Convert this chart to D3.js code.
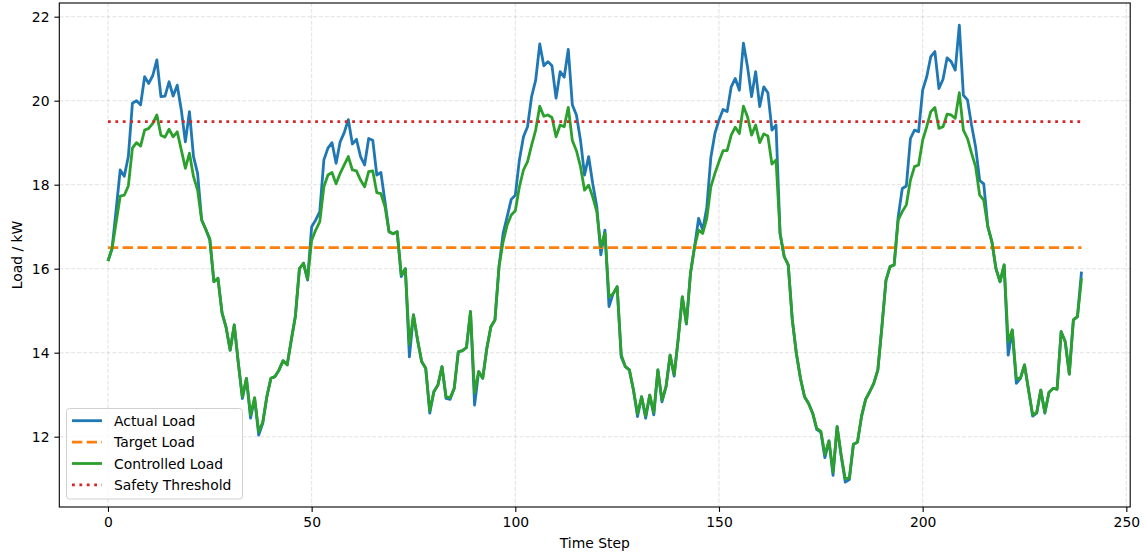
<!DOCTYPE html>
<html>
<head>
<meta charset="utf-8">
<script src="https://cdn.jsdelivr.net/npm/d3@7"></script>
<style>
  body { margin: 0; background: #fff; }
  text { font-family: "DejaVu Sans", sans-serif; }
</style>
</head>
<body>
<script>
'use strict';

// load readings, one per time step (0..239)
let actualLoad = [
  16.18, 16.48, 17.4, 18.35, 18.2, 18.67, 19.94, 20.0, 19.9, 20.57,
  20.41, 20.6, 20.97, 20.1, 20.11, 20.45, 20.11, 20.37, 19.78, 19.02,
  19.74, 18.67, 18.27, 17.16, 16.94, 16.68, 15.69, 15.77, 14.95, 14.6,
  14.06, 14.66, 13.75, 12.91, 13.39, 12.44, 12.91, 12.04, 12.32, 12.95,
  13.39, 13.43, 13.59, 13.81, 13.71, 14.3, 14.86, 16.0, 16.13, 15.73,
  17.0, 17.16, 17.36, 18.59, 18.87, 19.0, 18.51, 19.02, 19.24, 19.55,
  18.97, 19.08, 18.67, 18.47, 19.1, 19.06, 18.23, 18.29, 17.6, 16.88,
  16.83, 16.88, 15.81, 16.0, 13.9, 14.9, 14.3, 13.79, 13.63, 12.56,
  13.07, 13.23, 13.67, 12.91, 12.89, 13.15, 14.02, 14.05, 14.12, 14.98,
  12.75, 13.55, 13.39, 14.1, 14.62, 14.78, 16.05, 16.84, 17.24, 17.65,
  17.75, 18.59, 19.14, 19.38, 20.1, 20.49, 21.35, 20.83, 20.93, 20.83,
  20.06, 20.69, 20.56, 21.22, 19.9, 19.66, 19.06, 18.23, 18.67, 18.03,
  17.48, 16.33, 16.92, 15.1, 15.4, 15.57, 13.9, 13.67, 13.59, 13.11,
  12.48, 12.95, 12.44, 12.99, 12.52, 13.59, 12.83, 13.19, 13.94, 13.44,
  14.34, 15.33, 14.68, 15.89, 16.52, 17.2, 16.92, 17.45, 18.65, 19.22,
  19.54, 19.79, 19.74, 20.33, 20.53, 20.25, 21.37, 20.81, 20.1, 20.69,
  19.86, 20.33, 20.19, 19.3, 19.42, 16.84, 16.29, 16.09, 14.78, 13.98,
  13.39, 12.95, 12.79, 12.56, 12.17, 12.11, 11.5, 11.9, 11.08, 12.24,
  11.54, 10.92, 10.98, 11.82, 11.87, 12.49, 12.89, 13.07, 13.27, 13.59,
  14.62, 15.73, 16.05, 16.09, 17.24, 17.91, 17.97, 19.1, 19.3, 19.26,
  20.25, 20.57, 21.05, 21.17, 20.29, 20.51, 21.02, 20.93, 20.73, 21.8,
  20.13, 20.02, 19.42, 18.9, 18.1, 18.02, 17.0, 16.64, 16.0, 15.69,
  16.09, 13.94, 14.54, 13.27, 13.39, 13.71, 13.11, 12.49, 12.56, 13.11,
  12.56, 13.05, 13.15, 13.13, 14.5, 14.26, 13.49, 14.78, 14.86, 15.93
];

let controlledLoad = [
  16.18, 16.48, 17.1, 17.73, 17.75, 17.97, 18.87, 19.0, 18.92, 19.3,
  19.34, 19.46, 19.66, 19.18, 19.13, 19.32, 19.14, 19.26, 18.83, 18.39,
  18.75, 18.19, 17.87, 17.16, 16.94, 16.72, 15.69, 15.77, 14.95, 14.6,
  14.06, 14.66, 13.75, 12.95, 13.39, 12.52, 12.93, 12.12, 12.35, 12.95,
  13.39, 13.43, 13.59, 13.81, 13.71, 14.3, 14.86, 16.0, 16.13, 15.75,
  16.68, 16.92, 17.12, 17.95, 18.23, 18.29, 18.02, 18.27, 18.47, 18.67,
  18.35, 18.33, 18.11, 17.95, 18.31, 18.33, 17.81, 17.79, 17.48, 16.88,
  16.83, 16.88, 15.85, 16.0, 14.2, 14.9, 14.3, 13.79, 13.63, 12.62,
  13.07, 13.23, 13.67, 12.95, 12.93, 13.15, 14.02, 14.05, 14.12, 14.98,
  13.05, 13.55, 13.39, 14.1, 14.62, 14.78, 16.05, 16.64, 17.04, 17.28,
  17.38, 17.95, 18.35, 18.55, 18.94, 19.3, 19.87, 19.63, 19.66, 19.6,
  19.14, 19.42, 19.38, 19.84, 19.05, 18.81, 18.43, 17.87, 17.99, 17.71,
  17.36, 16.52, 16.84, 15.33, 15.4, 15.57, 13.95, 13.67, 13.59, 13.11,
  12.55, 12.95, 12.5, 12.99, 12.58, 13.59, 12.87, 13.19, 13.94, 13.48,
  14.34, 15.33, 14.7, 15.89, 16.52, 16.92, 16.84, 17.2, 17.95, 18.27,
  18.55, 18.81, 18.81, 19.18, 19.37, 19.22, 19.87, 19.62, 19.18, 19.42,
  19.0, 19.21, 19.16, 18.49, 18.59, 16.84, 16.29, 16.09, 14.78, 13.98,
  13.39, 12.95, 12.79, 12.56, 12.2, 12.13, 11.58, 11.9, 11.16, 12.24,
  11.56, 11.0, 11.02, 11.82, 11.87, 12.49, 12.89, 13.07, 13.27, 13.59,
  14.62, 15.73, 16.05, 16.09, 17.16, 17.36, 17.52, 18.11, 18.43, 18.47,
  19.06, 19.38, 19.74, 19.84, 19.34, 19.38, 19.68, 19.66, 19.58, 20.19,
  19.3, 19.1, 18.75, 18.43, 17.75, 17.63, 17.0, 16.64, 16.0, 15.69,
  16.09, 14.26, 14.54, 13.39, 13.39, 13.71, 13.11, 12.52, 12.58, 13.11,
  12.58, 13.05, 13.15, 13.13, 14.5, 14.26, 13.49, 14.78, 14.86, 15.77
];

let targetLoad = 16.5;
let safetyThreshold = 19.5;

let xTicks = [0, 50, 100, 150, 200, 250];
let yTicks = [12, 14, 16, 18, 20, 22];

let legendLabels = ['Actual Load', 'Target Load', 'Controlled Load', 'Safety Threshold'];

// svg size matches the browser window
let svgWidth = 1146, svgHeight = 557;
let plot = { left: 59.3, right: 1130.2, top: 3, bottom: 507 };

let steps = actualLoad.map((d, i) => i);

let xScale = d3.scaleLinear()
  .domain([-11.95, 250.95])
  .range([plot.left, plot.right]);

let yScale = d3.scaleLinear()
  .domain([10.326, 22.326])
  .range([plot.bottom, plot.top]);

let chart = d3.select('body').append('svg')
  .attr('width', svgWidth)
  .attr('height', svgHeight);

// grid
let grid = chart.append('g');
grid.selectAll('line.vg').data(xTicks).enter().append('line')
  .attr('x1', d => xScale(d)).attr('x2', d => xScale(d))
  .attr('y1', plot.top).attr('y2', plot.bottom)
  .attr('stroke', '#b0b0b0').attr('stroke-opacity', 0.35)
  .attr('stroke-width', 1.1).attr('stroke-dasharray', '4.1,1.8');
grid.selectAll('line.hg').data(yTicks).enter().append('line')
  .attr('x1', plot.left).attr('x2', plot.right)
  .attr('y1', d => yScale(d)).attr('y2', d => yScale(d))
  .attr('stroke', '#b0b0b0').attr('stroke-opacity', 0.35)
  .attr('stroke-width', 1.1).attr('stroke-dasharray', '4.1,1.8');

// axes
let xAxis = chart.append('g')
  .attr('transform', `translate(0,${plot.bottom})`)
  .call(d3.axisBottom(xScale).tickValues(xTicks).tickSize(4.9).tickPadding(4.9));
let yAxis = chart.append('g')
  .attr('transform', `translate(${plot.left},0)`)
  .call(d3.axisLeft(yScale).tickValues(yTicks).tickSize(4.9).tickPadding(4.9));

[xAxis, yAxis].forEach(ax => {
  ax.select('.domain').remove();
  ax.selectAll('line').attr('stroke', '#000').attr('stroke-width', 1.1);
  ax.selectAll('text').attr('font-size', 13.9).attr('fill', '#000')
    .attr('font-family', '"DejaVu Sans", sans-serif');
});

// frame
chart.append('rect')
  .attr('x', plot.left).attr('y', plot.top)
  .attr('width', plot.right - plot.left).attr('height', plot.bottom - plot.top)
  .attr('fill', 'none').attr('stroke', '#000').attr('stroke-width', 1.1);

let lineGen = d3.line().x((d, i) => xScale(steps[i])).y(d => yScale(d));

chart.append('path').datum(actualLoad)
  .attr('fill', 'none').attr('stroke', '#1f77b4').attr('stroke-width', 2.8)
  .attr('stroke-linejoin', 'round').attr('d', lineGen);

chart.append('line')
  .attr('x1', xScale(steps[0])).attr('x2', xScale(steps[steps.length - 1]))
  .attr('y1', yScale(targetLoad)).attr('y2', yScale(targetLoad))
  .attr('stroke', '#ff7f0e').attr('stroke-width', 2.8).attr('stroke-dasharray', '10.3,4.4');

chart.append('path').datum(controlledLoad)
  .attr('fill', 'none').attr('stroke', '#2ca02c').attr('stroke-width', 2.8)
  .attr('stroke-linejoin', 'round').attr('d', lineGen);

chart.append('line')
  .attr('x1', xScale(steps[0])).attr('x2', xScale(steps[steps.length - 1]))
  .attr('y1', yScale(safetyThreshold)).attr('y2', yScale(safetyThreshold))
  .attr('stroke', '#d62728').attr('stroke-width', 2.8).attr('stroke-dasharray', '2.8,4.6');

// axis labels
chart.append('text')
  .attr('x', (plot.left + plot.right) / 2).attr('y', 548)
  .attr('text-anchor', 'middle').attr('font-size', 13.9)
  .text('Time Step');
chart.append('text')
  .attr('transform', `translate(22,${(plot.top + plot.bottom) / 2}) rotate(-90)`)
  .attr('text-anchor', 'middle').attr('font-size', 13.9)
  .text('Load / kW');

// legend
let legendStyles = [
  { color: '#1f77b4', dash: null },
  { color: '#ff7f0e', dash: '10.3,4.4' },
  { color: '#2ca02c', dash: null },
  { color: '#d62728', dash: '2.8,4.6' }
];
let legend = chart.append('g');
legend.append('rect')
  .attr('x', 66.5).attr('y', 408.5).attr('width', 176).attr('height', 90.5)
  .attr('rx', 3).attr('fill', '#fff').attr('fill-opacity', 0.8)
  .attr('stroke', '#d0d0d0').attr('stroke-width', 1);
let rows = legend.selectAll('g.row').data(legendLabels).enter().append('g')
  .attr('transform', (d, i) => `translate(0,${420.7 + i * 21.4})`);
rows.append('line')
  .attr('x1', 72).attr('x2', 102)
  .attr('stroke', (d, i) => legendStyles[i].color)
  .attr('stroke-width', 2.8)
  .attr('stroke-dasharray', (d, i) => legendStyles[i].dash);
rows.append('text')
  .attr('x', 114).attr('y', 5).attr('font-size', 13.9)
  .text(d => d);
</script>
</body>
</html>
